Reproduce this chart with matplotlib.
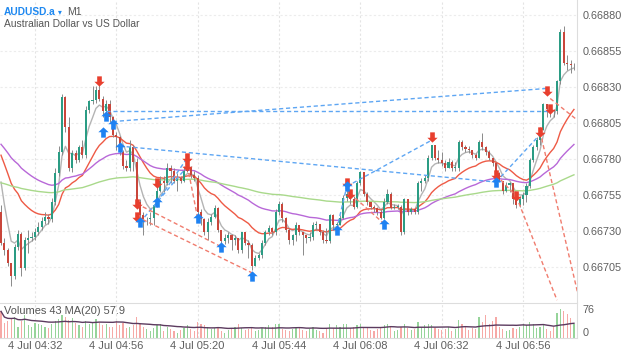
import numpy as np
import matplotlib
matplotlib.use("Agg")
import matplotlib.pyplot as plt
from matplotlib.path import Path

plt.rcParams['font.family'] = ['Liberation Sans', 'DejaVu Sans']

# AUDUSD M1 candles, prices in 1e-5 (pipettes)
open0 = 66743
close = [66722, 66717, 66708, 66699, 66719, 66728, 66704, 66724, 66725, 66726,
         66729, 66733, 66737, 66740, 66738, 66750, 66770, 66785, 66823, 66802,
         66774, 66784, 66779, 66788, 66783, 66814, 66820, 66821, 66828, 66822,
         66813, 66818, 66809, 66797, 66795, 66785, 66775, 66774, 66788, 66778,
         66750, 66741, 66738, 66738, 66739, 66748, 66758, 66765, 66763, 66774,
         66772, 66765, 66767, 66765, 66772, 66774, 66769, 66767, 66743, 66738,
         66729, 66736, 66740, 66746, 66731, 66723, 66725, 66727, 66724, 66725,
         66717, 66729, 66722, 66720, 66706, 66711, 66713, 66722, 66729, 66732,
         66729, 66743, 66749, 66739, 66731, 66724, 66727, 66734, 66729, 66727,
         66725, 66726, 66734, 66735, 66729, 66724, 66723, 66741, 66734, 66734,
         66739, 66753, 66756, 66752, 66747, 66763, 66771, 66756, 66750, 66747,
         66746, 66743, 66739, 66750, 66756, 66746, 66747, 66747, 66729, 66752,
         66743, 66745, 66743, 66763, 66765, 66767, 66781, 66790, 66781, 66779,
         66777, 66774, 66778, 66774, 66774, 66792, 66788, 66787, 66786, 66783,
         66781, 66792, 66788, 66785, 66781, 66777, 66770, 66765, 66758, 66762,
         66763, 66752, 66748, 66752, 66755, 66761, 66779, 66788, 66793, 66800,
         66818, 66815, 66814, 66813, 66834, 66868, 66847, 66846, 66845, 66845]
high = [66748, 66725, 66718, 66708, 66721, 66731, 66729, 66726, 66731, 66729,
        66732, 66736, 66740, 66743, 66742, 66753, 66774, 66789, 66825, 66824,
        66809, 66786, 66786, 66790, 66793, 66817, 66821, 66831, 66831, 66832,
        66824, 66821, 66821, 66810, 66799, 66796, 66786, 66779, 66793, 66790,
        66781, 66752, 66743, 66740, 66743, 66749, 66761, 66768, 66768, 66777,
        66776, 66774, 66770, 66768, 66775, 66777, 66775, 66772, 66769, 66745,
        66739, 66739, 66742, 66748, 66747, 66727, 66728, 66729, 66728, 66727,
        66725, 66729, 66729, 66724, 66722, 66713, 66715, 66724, 66731, 66734,
        66733, 66745, 66751, 66750, 66740, 66732, 66728, 66736, 66734, 66729,
        66727, 66729, 66736, 66737, 66734, 66731, 66732, 66742, 66742, 66736,
        66741, 66755, 66759, 66757, 66754, 66765, 66772, 66770, 66757, 66749,
        66748, 66747, 66745, 66753, 66759, 66757, 66749, 66749, 66748, 66753,
        66752, 66747, 66746, 66765, 66767, 66769, 66783, 66790, 66790, 66786,
        66785, 66779, 66781, 66779, 66778, 66793, 66793, 66790, 66789, 66786,
        66784, 66793, 66798, 66789, 66786, 66781, 66778, 66771, 66765, 66764,
        66764, 66763, 66753, 66754, 66757, 66763, 66781, 66790, 66795, 66802,
        66819, 66818, 66817, 66815, 66835, 66870, 66872, 66852, 66849, 66847]
low = [66720, 66713, 66706, 66692, 66697, 66717, 66699, 66703, 66715, 66723,
       66724, 66727, 66731, 66735, 66735, 66736, 66748, 66768, 66783, 66799,
       66772, 66771, 66777, 66778, 66781, 66781, 66812, 66818, 66819, 66820,
       66809, 66811, 66806, 66795, 66786, 66783, 66773, 66772, 66772, 66772,
       66748, 66736, 66727, 66734, 66734, 66734, 66747, 66757, 66757, 66762,
       66763, 66763, 66758, 66763, 66764, 66771, 66767, 66765, 66741, 66734,
       66727, 66724, 66734, 66739, 66729, 66721, 66721, 66722, 66717, 66720,
       66715, 66715, 66720, 66711, 66703, 66706, 66710, 66711, 66720, 66727,
       66727, 66727, 66741, 66736, 66729, 66721, 66720, 66723, 66727, 66713,
       66722, 66723, 66724, 66731, 66727, 66722, 66722, 66722, 66731, 66733,
       66734, 66738, 66751, 66749, 66745, 66746, 66762, 66754, 66748, 66745,
       66743, 66741, 66738, 66738, 66749, 66745, 66745, 66745, 66727, 66728,
       66741, 66742, 66742, 66742, 66758, 66763, 66765, 66779, 66779, 66777,
       66775, 66772, 66774, 66772, 66772, 66772, 66786, 66785, 66784, 66781,
       66779, 66781, 66786, 66783, 66779, 66775, 66769, 66764, 66756, 66757,
       66757, 66749, 66746, 66747, 66748, 66750, 66760, 66778, 66786, 66790,
       66800, 66809, 66809, 66809, 66811, 66832, 66845, 66842, 66840, 66842]
volume = [70, 40, 45, 50, 55, 30, 45, 60, 35, 30,
          40, 38, 35, 30, 25, 38, 45, 50, 60, 55,
          48, 52, 40, 35, 30, 45, 38, 42, 50, 40,
          35, 38, 30, 28, 45, 35, 40, 25, 30, 35,
          54, 36, 30, 24, 18, 26, 34, 36, 18, 30,
          24, 18, 14, 22, 26, 34, 24, 18, 42, 36,
          34, 30, 24, 26, 30, 18, 14, 22, 24, 30,
          36, 26, 22, 24, 30, 18, 22, 26, 30, 34,
          30, 36, 38, 24, 22, 18, 24, 26, 30, 22,
          18, 24, 30, 22, 18, 14, 24, 36, 26, 34,
          30, 38, 36, 26, 30, 34, 36, 26, 30, 22,
          18, 24, 26, 34, 36, 30, 18, 22, 30, 36,
          26, 22, 24, 42, 30, 34, 36, 34, 26, 24,
          22, 24, 30, 18, 24, 48, 36, 30, 22, 26,
          24, 54, 42, 60, 36, 46, 56, 30, 24, 18,
          22, 26, 24, 30, 36, 34, 42, 36, 26, 30,
          34, 24, 18, 30, 66, 76, 70, 62, 52, 36]

# moving averages: (span, starting value read at left edge, colour)
ma_spans = [5, 20, 50, 150]
ma_starts = [66785, 66789, 66793, 66764]
ma_colors = ['#b4b4b4', '#ee5a45', '#b868d8', '#a9d98b']

# signal arrows (candle index, price)
sell_arrows = [(29, 66834), (40, 66749), (40, 66740), (46, 66763), (55, 66781),
               (55, 66775), (102, 66763), (103, 66756), (127, 66795), (146, 66769),
               (152, 66754), (159, 66799), (161, 66827), (162, 66815)]
buy_arrows = [(30, 66799), (31, 66810), (33, 66804), (35, 66788), (41, 66736),
              (46, 66750), (58, 66739), (65, 66719), (74, 66699), (99, 66731),
              (102, 66761), (113, 66735), (146, 66764)]

# dashed trend lines ((i0, p0), (i1, p1))
blue_lines = [((33, 66806), (161, 66829)), ((31, 66813), (162, 66813)),
              ((35, 66789), (146, 66764)), ((41, 66736), (55, 66775)),
              ((46, 66750), (55, 66781)), ((99, 66731), (102, 66761)),
              ((102, 66761), (127, 66793)), ((146, 66764), (159, 66797))]
red_lines = [((40, 66749), (65, 66719)), ((40, 66740), (74, 66701)),
             ((55, 66775), (58, 66739)), ((103, 66756), (113, 66735)),
             ((146, 66769), (152, 66754)), ((152, 66754), (164, 66682)),
             ((159, 66799), (170, 66688)), ((162, 66822), (170, 66807))]

tick_idx = [10, 34, 58, 82, 106, 130, 154]
tick_labels = ['4 Jul 04:32', '4 Jul 04:56', '4 Jul 05:20', '4 Jul 05:44',
               '4 Jul 06:08', '4 Jul 06:32', '4 Jul 06:56']
price_ticks = [66705, 66730, 66755, 66780, 66805, 66830, 66855, 66880]

GREEN = '#2b9c84'
RED = '#c9463b'

c = np.array(close) / 1e5
h = np.array(high) / 1e5
l = np.array(low) / 1e5
o = np.concatenate([[open0 / 1e5], c[:-1]])
x = np.arange(len(c))
up = c >= o


def ema(vals, span, start):
    a = 2.0 / (span + 1)
    out = []
    v = start
    for val in vals:
        v = v + a * (val - v)
        out.append(v)
    return np.array(out)


def arrow_marker(direction):
    verts = [(0, 1), (1, 0.05), (0.45, 0.05), (0.45, -1), (-0.45, -1),
             (-0.45, 0.05), (-1, 0.05), (0, 1)]
    if direction < 0:
        verts = [(vx, -vy) for vx, vy in verts]
    return Path(verts, closed=True)


fig = plt.figure(figsize=(6.25, 3.52), dpi=100)
ax = fig.add_axes([0, 50 / 352, 577 / 625, 302 / 352])
vax = fig.add_axes([0, 14 / 352, 577 / 625, 35 / 352])

# grid
for t in tick_idx:
    ax.axvline(t, color='#e4e4e4', lw=0.8, ls=(0, (2, 2)), zorder=0)
    vax.axvline(t, color='#e4e4e4', lw=0.8, ls=(0, (2, 2)), zorder=0)
for p in price_ticks:
    ax.axhline(p / 1e5, color='#ececec', lw=0.8, ls=(0, (2, 2)), zorder=0)

# moving averages
for span, start, col in zip(ma_spans, ma_starts, ma_colors):
    ax.plot(x, ema(c, span, start / 1e5), color=col, lw=1.0, zorder=2)

# candles
ax.vlines(x, l, h, color='#8a8a8a', lw=0.7, zorder=3)
body_lo = np.minimum(o, c)
body_h = np.maximum(np.abs(c - o), 0.000006)
ax.bar(x, body_h, bottom=body_lo, width=0.62,
       color=np.where(up, GREEN, RED), edgecolor='none', zorder=4)

# trend lines
for (i0, p0), (i1, p1) in blue_lines:
    ax.plot([i0, i1], [p0 / 1e5, p1 / 1e5], color='#5ea6f3', lw=1.0,
            ls=(0, (3, 2)), zorder=5)
for (i0, p0), (i1, p1) in red_lines:
    ax.plot([i0, i1], [p0 / 1e5, p1 / 1e5], color='#f07c6e', lw=1.0,
            ls=(0, (3, 2)), zorder=5)

# arrows
ax.scatter([a[0] for a in sell_arrows], [a[1] / 1e5 for a in sell_arrows],
           marker=arrow_marker(-1), s=55, color='#e83f2e', lw=0, zorder=6)
ax.scatter([a[0] for a in buy_arrows], [a[1] / 1e5 for a in buy_arrows],
           marker=arrow_marker(1), s=55, color='#1f82f2', lw=0, zorder=6)

ax.set_xlim(-0.3, 169.9)
ax.set_ylim(0.666807, 0.668904)
ax.yaxis.tick_right()
ax.set_yticks([p / 1e5 for p in price_ticks])
ax.set_yticklabels(['%.5f' % (p / 1e5) for p in price_ticks])
ax.tick_params(axis='y', length=0, pad=4, labelsize=7.8, labelcolor='#5f5f5f')
ax.set_xticks([])
for side in ['left', 'top', 'bottom']:
    ax.spines[side].set_visible(False)
ax.spines['right'].set_color('#dddddd')

# title
fig.text(4 / 625, 1 - 12 / 352, 'AUDUSD.a', color='#1e88f0', fontsize=7.3,
         fontweight='bold', va='center', ha='left')
fig.text(58 / 625, 1 - 12 / 352, '\u25be', color='#1e88f0', fontsize=5.5,
         va='center', ha='left', family=['DejaVu Sans'])
fig.text(67 / 625, 1 - 12 / 352, 'M1', color='#555555', fontsize=7.6,
         va='center', ha='left')
fig.text(4 / 625, 1 - 24 / 352, 'Australian Dollar vs US Dollar', color='#555555',
         fontsize=7.4, va='center', ha='left')

# volumes
vol = np.array(volume, dtype=float)
vax.bar(x, vol, width=0.35, color=np.where(up, '#96d49a', '#f6a9a6'),
        edgecolor='none', zorder=2)
vma = np.convolve(vol, np.ones(20) / 20, mode='full')[:len(vol)]
vma[:19] = np.cumsum(vol)[:19] / np.arange(1, 20)
vax.plot(x, vma, color='#5c3b5f', lw=1.0, zorder=3)
vax.set_xlim(-0.3, 169.9)
vax.set_ylim(0, 92)
vax.yaxis.tick_right()
vax.set_yticks([0, 76])
vax.set_yticklabels(['0', '76'])
vax.tick_params(axis='y', length=0, pad=4, labelsize=7.8, labelcolor='#5f5f5f')
vax.get_yticklabels()[0].set_va('bottom')
vax.set_xticks(tick_idx)
vax.set_xticklabels(tick_labels)
vax.tick_params(axis='x', length=0, pad=2, labelsize=8.0, labelcolor='#5f5f5f')
vax.spines['left'].set_visible(False)
for side in ['top', 'bottom', 'right']:
    vax.spines[side].set_color('#dddddd')
vax.text(4 / 577, 0.92, 'Volumes 43 MA(20) 57.9', transform=vax.transAxes,
         fontsize=7.9, color='#555555', va='top', ha='left')

fig.savefig('out.png', dpi=100)
